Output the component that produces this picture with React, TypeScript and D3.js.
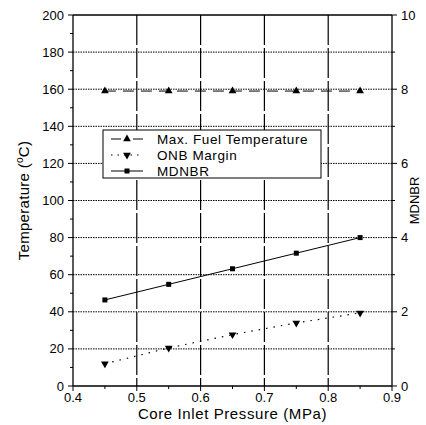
import React from 'react'
import * as d3 from 'd3'

const pressure = [0.45, 0.55, 0.65, 0.75, 0.85]
const maxFuelTemp = [159, 159, 159, 159, 159]
const onbMargin = [12.0, 20.5, 27.7, 34.0, 39.4]
const mdnbr = [2.32, 2.74, 3.16, 3.58, 4.0]

const xTicks = [0.4, 0.5, 0.6, 0.7, 0.8, 0.9]
const yTicks = [0, 20, 40, 60, 80, 100, 120, 140, 160, 180, 200]
const y2Ticks = [0, 2, 4, 6, 8, 10]

const legendItems = ['Max. Fuel Temperature', 'ONB Margin', 'MDNBR']

const W = 426
const H = 425
const m = { left: 73, right: 392, top: 15, bottom: 386 }
const font = 'Liberation Sans, Arial, sans-serif'

const App = () => {
    const x = d3.scaleLinear().domain([0.4, 0.9]).range([m.left, m.right])
    const y = d3.scaleLinear().domain([0, 200]).range([m.bottom, m.top])
    const y2 = d3.scaleLinear().domain([0, 10]).range([m.bottom, m.top])

    const line = d3.line<[number, number]>().x(d => d[0]).y(d => d[1])
    const fuelPts: [number, number][] = pressure.map((p, i) => [x(p), y(maxFuelTemp[i])])
    const onbPts: [number, number][] = pressure.map((p, i) => [x(p), y(onbMargin[i])])
    const dnbPts: [number, number][] = pressure.map((p, i) => [x(p), y2(mdnbr[i])])

    const tri = d3.symbol().type(d3.symbolTriangle).size(26)()
    const sq = (cx: number, cy: number, k: string) => (
        <rect key={k} x={cx - 2.5} y={cy - 2.5} width={5} height={5} fill="#000" />
    )

    const minorY = d3.range(10, 200, 20)
    const minorY2 = d3.range(1, 10, 2)
    const minorX = d3.range(0.45, 0.9, 0.1)

    const lx = 103, ly = 130, lw = 218, lh = 48
    const rows = [ly + 9, ly + 25, ly + 41]

    return (
        <svg width={W} height={H} style={{ position: 'absolute', left: 0, top: 0 }} fontFamily={font}>
            <rect width={W} height={H} fill="#fff" />
            {/* grid */}
            {yTicks.slice(1, -1).map(t => (
                <line key={`gy${t}`} x1={m.left} x2={m.right} y1={y(t)} y2={y(t)}
                    stroke="#000" strokeWidth={1} strokeDasharray="1.5,1" />
            ))}
            {xTicks.slice(1, -1).map(t => (
                <line key={`gx${t}`} x1={x(t)} x2={x(t)} y1={m.top} y2={m.bottom}
                    stroke="#000" strokeWidth={1.2} strokeDasharray="30,3" />
            ))}
            {/* frame */}
            <line x1={m.left} x2={m.left} y1={m.top} y2={m.bottom} stroke="#000" strokeWidth={1.3} />
            <line x1={m.right} x2={m.right} y1={m.top} y2={m.bottom} stroke="#000" strokeWidth={1.3} />
            <line x1={m.left} x2={m.right} y1={m.bottom} y2={m.bottom} stroke="#000" strokeWidth={1.3} />
            <line x1={m.left} x2={m.right} y1={m.top} y2={m.top} stroke="#000" strokeWidth={1.3} />
            {/* left ticks */}
            {yTicks.map(t => (
                <g key={`ly${t}`}>
                    <line x1={m.left - 5} x2={m.left} y1={y(t)} y2={y(t)} stroke="#000" />
                    <text x={m.left - 9} y={y(t) + 4.5} fontSize={13} textAnchor="end">{t}</text>
                </g>
            ))}
            {minorY.map(t => (
                <line key={`my${t}`} x1={m.left - 3} x2={m.left} y1={y(t)} y2={y(t)} stroke="#000" />
            ))}
            {/* right ticks */}
            {y2Ticks.map(t => (
                <g key={`ry${t}`}>
                    <line x1={m.right} x2={m.right + 5} y1={y2(t)} y2={y2(t)} stroke="#000" />
                    <text x={m.right + 9} y={y2(t) + 4.5} fontSize={13} textAnchor="start">{t}</text>
                </g>
            ))}
            {minorY2.map(t => (
                <line key={`my2${t}`} x1={m.right} x2={m.right + 3} y1={y2(t)} y2={y2(t)} stroke="#000" />
            ))}
            {/* bottom ticks */}
            {xTicks.map(t => (
                <g key={`bx${t}`}>
                    <line x1={x(t)} x2={x(t)} y1={m.bottom} y2={m.bottom + 5} stroke="#000" />
                    <text x={x(t)} y={m.bottom + 16} fontSize={13} textAnchor="middle">{t.toFixed(1)}</text>
                </g>
            ))}
            {minorX.map(t => (
                <line key={`mx${t}`} x1={x(t)} x2={x(t)} y1={m.bottom} y2={m.bottom + 3} stroke="#000" />
            ))}
            {/* axis titles */}
            <text x={(m.left + m.right) / 2} y={419} fontSize={15} textAnchor="middle" letterSpacing={0.6}>
                Core Inlet Pressure (MPa)
            </text>
            <text transform={`translate(29,${(m.top + m.bottom) / 2}) rotate(-90)`} fontSize={15} textAnchor="middle" letterSpacing={0.3}>
                Temperature (<tspan dy={-6} fontSize={10}>o</tspan><tspan dy={6}>C)</tspan>
            </text>
            <text transform={`translate(419,${(m.top + m.bottom) / 2}) rotate(-90)`} fontSize={13} textAnchor="middle">
                MDNBR
            </text>
            {/* series */}
            <path d={line(fuelPts) || ''} fill="none" stroke="#000" strokeWidth={1} strokeDasharray="11,7" />
            {fuelPts.map((p, i) => (
                <path key={`f${i}`} d={tri || ''} transform={`translate(${p[0]},${p[1]})`} fill="#000" />
            ))}
            <path d={line(onbPts) || ''} fill="none" stroke="#000" strokeWidth={1.2} strokeDasharray="1.5,6" />
            {onbPts.map((p, i) => (
                <path key={`o${i}`} d={tri || ''} transform={`translate(${p[0]},${p[1]}) rotate(180)`} fill="#000" />
            ))}
            <path d={line(dnbPts) || ''} fill="none" stroke="#000" strokeWidth={1} />
            {dnbPts.map((p, i) => sq(p[0], p[1], `d${i}`))}
            {/* legend */}
            <rect x={lx} y={ly} width={lw} height={lh} fill="#fff" stroke="#000" strokeWidth={1} />
            {legendItems.map((name, i) => {
                const cy = rows[i]
                return (
                    <g key={name}>
                        {i === 0 && (
                            <g>
                                <line x1={111} x2={121} y1={cy} y2={cy} stroke="#000" />
                                <line x1={133} x2={143} y1={cy} y2={cy} stroke="#000" />
                                <path d={tri || ''} transform={`translate(127,${cy})`} fill="#000" />
                            </g>
                        )}
                        {i === 1 && (
                            <g>
                                <line x1={111} x2={143} y1={cy} y2={cy} stroke="#000" strokeWidth={1.2} strokeDasharray="1.5,5" />
                                <path d={tri || ''} transform={`translate(127,${cy}) rotate(180)`} fill="#000" />
                            </g>
                        )}
                        {i === 2 && (
                            <g>
                                <line x1={111} x2={143} y1={cy} y2={cy} stroke="#000" />
                                {sq(127, cy, 'lsq')}
                            </g>
                        )}
                        <text x={157} y={cy + 5} fontSize={13.5} letterSpacing={0.6}>{name}</text>
                    </g>
                )
            })}
        </svg>
    )
}

export default App
